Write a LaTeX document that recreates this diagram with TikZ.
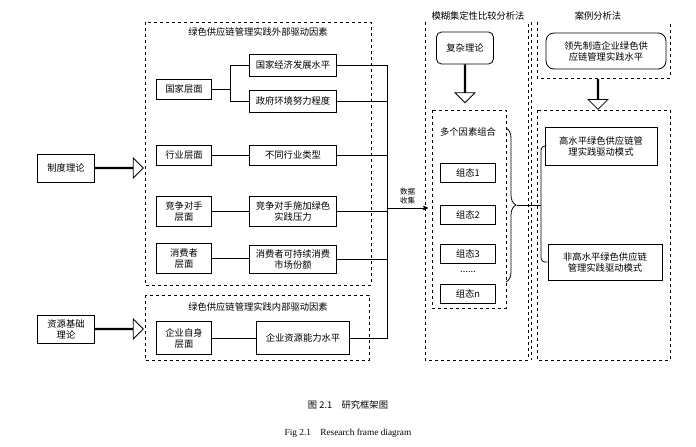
\documentclass[tikz,border=0pt]{standalone}
\usepackage{fontspec}
\setmainfont{Liberation Serif}
\newfontfamily\cjk{Noto Sans CJK SC}
\usetikzlibrary{arrows,shapes.arrows,decorations.pathreplacing}
\begin{document}
\begin{tikzpicture}[x=1pt,y=-1pt,>=stealth',font=\cjk\fontsize{9.3}{11}\selectfont,
    factor/.style={draw,thick,minimum width=87pt,minimum height=22pt,align=center,inner sep=1pt},
    level/.style={draw,thick,minimum width=55pt,minimum height=20pt,align=center,inner sep=1pt},
    state/.style={draw,thick,minimum width=55pt,minimum height=19pt},
    theory/.style={draw,thick,minimum width=57pt,minimum height=28pt,align=center,inner sep=1pt},
    frame/.style={draw,dashed,thick},
    hollow/.style={single arrow,draw,thick,minimum height=#1,single arrow head extend=6pt,minimum width=20pt,inner sep=0pt}]
  \useasboundingbox (0,0) rectangle (696,447);
  % Dashed frames
  \draw[frame] (145,22) rectangle (371,285);
  \draw[frame] (145,295) rectangle (369,360);
  \draw[frame] (425,22) -- (425,360) -- (528,360) -- (528,22);
  \draw[frame] (432,110) rectangle (506,308);
  \draw[frame] (531,22) -- (531,360);
  \draw[frame] (537,22) -- (537,78) -- (670,78) -- (670,22);
  \draw[frame] (537,110) rectangle (670,360);
  \node at (258,32) {绿色供应链管理实践外部驱动因素};
  \node at (258,307) {绿色供应链管理实践内部驱动因素};
  \node at (478,16) {模糊集定性比较分析法};
  \node at (598,16) {案例分析法};
  % Theories
  \node[theory] (inst) at (66,168) {制度理论};
  \node[theory] (res) at (66,329) {资源基础\\理论};
  \node[hollow=48pt,anchor=tail] (a1) at (inst.east) {};
  \node[hollow=48pt,anchor=tail] (a2) at (res.east) {};
  % Levels
  \node[level] (nat) at (184,89) {国家层面};
  \node[level] (ind) at (184,155) {行业层面};
  \node[level,minimum height=30pt] (comp) at (184,211) {竞争对手\\层面};
  \node[level,minimum height=30pt] (cons) at (184,258) {消费者\\层面};
  \node[level,minimum height=33pt] (firm) at (184,338) {企业自身\\层面};
  % Factors
  \node[factor] (eco) at (293,65) {国家经济发展水平};
  \node[factor] (gov) at (293,101) {政府环境努力程度};
  \node[factor,minimum height=20pt] (type) at (293,155) {不同行业类型};
  \node[factor,minimum height=30pt] (press) at (293,211) {竞争对手施加绿色\\实践压力};
  \node[factor,minimum height=28pt] (share) at (293,259) {消费者可持续消费\\市场份额};
  \node[factor,minimum width=93pt,minimum height=33pt] (cap) at (303,338) {企业资源能力水平};
  % Edges
  \draw[thick] (nat.east) -- ++(18,0) coordinate (fork);
  \draw[thick] (eco.west) -| (fork) |- (gov.west);
  \draw[thick] (ind) -- (type);
  \draw[thick] (comp) -- (press);
  \draw[thick] (cons.east) -- (cons.east -| share.west);
  \draw[thick] (firm) -- (cap);
  \coordinate (bus) at (387,208);
  \draw[thick] (eco.east) -| (bus);
  \draw[thick] (gov.east) -| (bus);
  \draw[thick] (type.east) -| (bus);
  \draw[thick] (press.east) -| (bus);
  \draw[thick] (share.east) -| (bus);
  \draw[thick] (cap.east) -| (bus);
  \coordinate (mid) at (428,208);
  \draw[thick,->] (bus) -- node[above,align=center,font=\cjk\fontsize{7.5}{9}\selectfont] {数据\\收集} (mid);
  % Middle column
  \node[theory,rounded corners=5pt,minimum height=32pt] (cx) at (465,48) {复杂理论};
  \node[hollow=38pt,shape border rotate=270,anchor=tail] at (cx.south) {};
  \node at (468,132) {多个因素组合};
  \node[state] (s1) at (468,173) {组态1};
  \node[state] (s2) at (468,215) {组态2};
  \node[state] (s3) at (468,254) {组态3};
  \node at (468,272) {......};
  \node[state] (sn) at (468,294) {组态n};
  \draw[thick,decorate,decoration={brace,amplitude=10pt}] (506,128) -- (506,282);
  % Right column
  \node[theory,rounded corners=8pt,minimum width=120pt,minimum height=36pt] (lead) at (606,51) {领先制造企业绿色供\\应链管理实践水平};
  \node[hollow=30pt,shape border rotate=270,anchor=tail] at (598,79) {};
  \node[theory,minimum width=112pt,minimum height=38pt] (high) at (601,146) {高水平绿色供应链管\\理实践驱动模式};
  \node[theory,minimum width=114pt,minimum height=36pt] (low) at (605,262) {非高水平绿色供应链\\管理实践驱动模式};
  \coordinate (br) at (541,205);
  \draw[thick] (517,205) -- (br);
  \draw[thick,rounded corners=4pt] (high.west) -| (br) |- (low.west);
  % Caption
  \node at (348,405) {图 2.1\quad 研究框架图};
  \node[font=\fontsize{9.3}{11}\selectfont] at (348,433) {Fig 2.1\quad Research frame diagram};
\end{tikzpicture}
\end{document}
